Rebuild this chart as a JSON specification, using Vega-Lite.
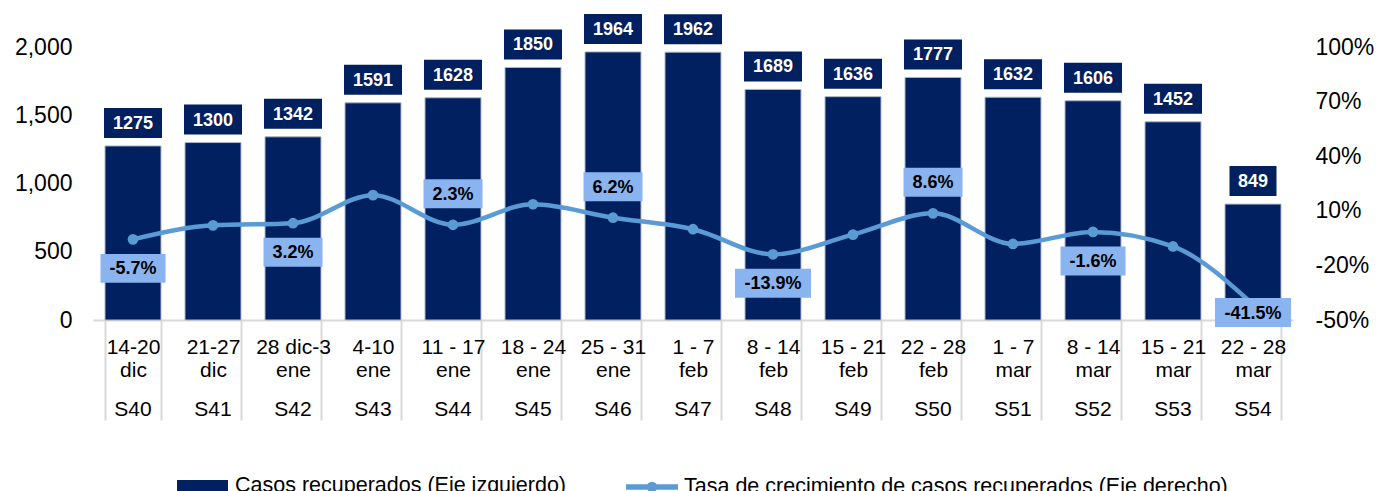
{
  "$schema": "https://vega.github.io/schema/vega-lite/v6.json",
  "width": 1200,
  "height": 273,
  "autosize": "none",
  "padding": {"left": 93, "top": 47, "right": 86, "bottom": 171},
  "background": "white",
  "config": {
    "view": {"stroke": null},
    "font": "Liberation Sans",
    "locale": {"number": {"decimal": ".", "thousands": ",", "grouping": [3], "currency": ["$", ""], "minus": "-"}},
    "axis": {"labelFont": "Liberation Sans", "labelColor": "#000000", "grid": false, "title": null},
    "legend": {"labelLimit": 0}
  },
  "data": {
    "values": [
      {"semana": "S40", "etiqueta": "14-20|dic|S40", "casos": 1275, "tasa": -0.057},
      {"semana": "S41", "etiqueta": "21-27|dic|S41", "casos": 1300, "tasa": 0.020},
      {"semana": "S42", "etiqueta": "28 dic-3|ene|S42", "casos": 1342, "tasa": 0.032},
      {"semana": "S43", "etiqueta": "4-10|ene|S43", "casos": 1591, "tasa": 0.186},
      {"semana": "S44", "etiqueta": "11 - 17|ene|S44", "casos": 1628, "tasa": 0.023},
      {"semana": "S45", "etiqueta": "18 - 24|ene|S45", "casos": 1850, "tasa": 0.136},
      {"semana": "S46", "etiqueta": "25 - 31|ene|S46", "casos": 1964, "tasa": 0.062},
      {"semana": "S47", "etiqueta": "1 - 7|feb|S47", "casos": 1962, "tasa": -0.001},
      {"semana": "S48", "etiqueta": "8 - 14|feb|S48", "casos": 1689, "tasa": -0.139},
      {"semana": "S49", "etiqueta": "15 - 21|feb|S49", "casos": 1636, "tasa": -0.031},
      {"semana": "S50", "etiqueta": "22 - 28|feb|S50", "casos": 1777, "tasa": 0.086},
      {"semana": "S51", "etiqueta": "1 - 7|mar|S51", "casos": 1632, "tasa": -0.082},
      {"semana": "S52", "etiqueta": "8 - 14|mar|S52", "casos": 1606, "tasa": -0.016},
      {"semana": "S53", "etiqueta": "15 - 21|mar|S53", "casos": 1452, "tasa": -0.096},
      {"semana": "S54", "etiqueta": "22 - 28|mar|S54", "casos": 849, "tasa": -0.415}
    ]
  },
  "resolve": {"scale": {"y": "independent"}, "axis": {"x": "independent"}},
  "layer": [
    {
      "encoding": {
        "x": {"field": "etiqueta", "type": "nominal", "sort": null,
              "scale": {"paddingInner": 0.3, "paddingOuter": 0.15}},
        "y": {"field": "casos", "type": "quantitative", "scale": {"domain": [0, 2000], "nice": false}}
      },
      "layer": [
        {
          "mark": {"type": "bar", "stroke": "#aab4c8", "strokeWidth": 1},
          "encoding": {
            "x": {"field": "etiqueta", "type": "nominal", "sort": null,
                  "axis": {"orient": "bottom", "labelExpr": "datum.value ? slice(split(datum.value,'|'),0,2) : ''",
                           "labelFontSize": 21, "labelLineHeight": 23, "labelAngle": 0,
                           "labelOverlap": false, "labelBound": false,
                           "domainColor": "#d9d9d9", "domainWidth": 2,
                           "tickColor": "#d9d9d9", "tickWidth": 2, "tickSize": 100, "tickBand": "extent",
                           "labelPadding": -84}},
            "y": {"field": "casos", "type": "quantitative",
                  "axis": {"orient": "left", "format": ",.0f", "values": [0, 500, 1000, 1500, 2000],
                           "domain": false, "ticks": false, "labelFontSize": 23, "labelPadding": 21}},
            "fill": {"datum": "Casos recuperados (Eje izquierdo)", "type": "nominal",
                     "scale": {"range": ["#002060"]},
                     "legend": {"orient": "none", "legendX": 84, "legendY": 413, "title": null,
                                "labelFontSize": 21.5, "labelFont": "Liberation Sans", "labelColor": "#000000",
                                "labelOffset": 7, "labelLimit": 0, "symbolType": "M-1,-0.22H1V0.22H-1Z", "symbolSize": 2601,
                                "symbolStrokeWidth": 0}}
          }
        },
        {
          "transform": [{"filter": "datum.casos >= 1000"}],
          "mark": {"type": "point", "shape": "M-1,-0.517H1V0.517H-1Z", "size": 3364, "filled": true,
                   "opacity": 1, "color": "#002060", "strokeWidth": 0, "yOffset": -23}
        },
        {
          "transform": [{"filter": "datum.casos < 1000"}],
          "mark": {"type": "point", "shape": "M-1,-0.638H1V0.638H-1Z", "size": 2209, "filled": true,
                   "opacity": 1, "color": "#002060", "strokeWidth": 0, "yOffset": -23}
        },
        {
          "mark": {"type": "text", "color": "#ffffff", "fontWeight": "bold", "fontSize": 18,
                   "font": "Liberation Sans", "baseline": "middle", "yOffset": -22},
          "encoding": {"text": {"field": "casos", "type": "quantitative", "format": "d"}}
        }
      ]
    },
    {
      "encoding": {
        "x": {"field": "etiqueta", "type": "nominal", "sort": null},
        "y": {"field": "tasa", "type": "quantitative", "scale": {"domain": [-0.5, 1], "nice": false}}
      },
      "layer": [
        {
          "mark": {"type": "line", "interpolate": "monotone", "strokeWidth": 4.5},
          "encoding": {
            "x": {"field": "etiqueta", "type": "nominal", "sort": null,
                  "axis": {"orient": "bottom", "labelExpr": "datum.value ? split(datum.value,'|')[2] : ''",
                           "labelFontSize": 21, "labelAngle": 0, "labelOverlap": false, "labelBound": false,
                           "domain": false, "ticks": false, "labelPadding": 78}},
            "y": {"field": "tasa", "type": "quantitative",
                  "axis": {"orient": "right", "format": ".0%", "values": [-0.5, -0.2, 0.1, 0.4, 0.7, 1],
                           "domain": false, "ticks": false, "labelFontSize": 23, "labelPadding": 22}},
            "stroke": {"datum": "Tasa de crecimiento de casos recuperados (Eje derecho)", "type": "nominal",
                       "scale": {"range": ["#5B9BD5"]},
                       "legend": {"orient": "none", "legendX": 530, "legendY": 411, "title": null,
                                  "labelFontSize": 21.5, "labelFont": "Liberation Sans", "labelColor": "#000000",
                                  "labelOffset": 3, "labelLimit": 0,
                                  "symbolType": "M-1,0H1M-0.1,0A0.1,0.1 0 1,0 0.1,0A0.1,0.1 0 1,0 -0.1,0",
                                  "symbolSize": 2704, "symbolStrokeWidth": 5.5, "symbolFillColor": "transparent"}}
          }
        },
        {
          "mark": {"type": "point", "filled": true, "opacity": 1, "size": 115, "color": "#5B9BD5"}
        },
        {
          "transform": [{"filter": {"field": "semana", "oneOf": ["S40", "S52"]}}],
          "mark": {"type": "point", "shape": "M-1,-0.446H1V0.446H-1Z", "size": 4225, "filled": true,
                   "opacity": 1, "color": "#8AB4F0", "strokeWidth": 0, "yOffset": 29}
        },
        {
          "transform": [{"filter": {"field": "semana", "oneOf": ["S42"]}}],
          "mark": {"type": "point", "shape": "M-1,-0.4915H1V0.4915H-1Z", "size": 3481, "filled": true,
                   "opacity": 1, "color": "#8AB4F0", "strokeWidth": 0, "yOffset": 29}
        },
        {
          "transform": [{"filter": {"field": "semana", "oneOf": ["S48"]}}],
          "mark": {"type": "point", "shape": "M-1,-0.3816H1V0.3816H-1Z", "size": 5776, "filled": true,
                   "opacity": 1, "color": "#8AB4F0", "strokeWidth": 0, "yOffset": 29}
        },
        {
          "transform": [{"filter": {"field": "semana", "oneOf": ["S44", "S46", "S50"]}}],
          "mark": {"type": "point", "shape": "M-1,-0.4915H1V0.4915H-1Z", "size": 3481, "filled": true,
                   "opacity": 1, "color": "#8AB4F0", "strokeWidth": 0, "yOffset": -31}
        },
        {
          "transform": [{"filter": {"field": "semana", "oneOf": ["S54"]}}],
          "mark": {"type": "point", "shape": "M-1,-0.3816H1V0.3816H-1Z", "size": 5776, "filled": true,
                   "opacity": 1, "color": "#8AB4F0", "strokeWidth": 0, "yOffset": 8}
        },
        {
          "transform": [{"filter": {"field": "semana", "oneOf": ["S40", "S42", "S48", "S52"]}}],
          "mark": {"type": "text", "color": "#000000", "fontWeight": "bold", "fontSize": 18,
                   "font": "Liberation Sans", "baseline": "middle", "yOffset": 30},
          "encoding": {"text": {"field": "tasa", "type": "quantitative", "format": ".1%"}}
        },
        {
          "transform": [{"filter": {"field": "semana", "oneOf": ["S44", "S46", "S50"]}}],
          "mark": {"type": "text", "color": "#000000", "fontWeight": "bold", "fontSize": 18,
                   "font": "Liberation Sans", "baseline": "middle", "yOffset": -30},
          "encoding": {"text": {"field": "tasa", "type": "quantitative", "format": ".1%"}}
        },
        {
          "transform": [{"filter": {"field": "semana", "oneOf": ["S54"]}}],
          "mark": {"type": "text", "color": "#000000", "fontWeight": "bold", "fontSize": 18,
                   "font": "Liberation Sans", "baseline": "middle", "yOffset": 9},
          "encoding": {"text": {"field": "tasa", "type": "quantitative", "format": ".1%"}}
        }
      ]
    }
  ]
}
